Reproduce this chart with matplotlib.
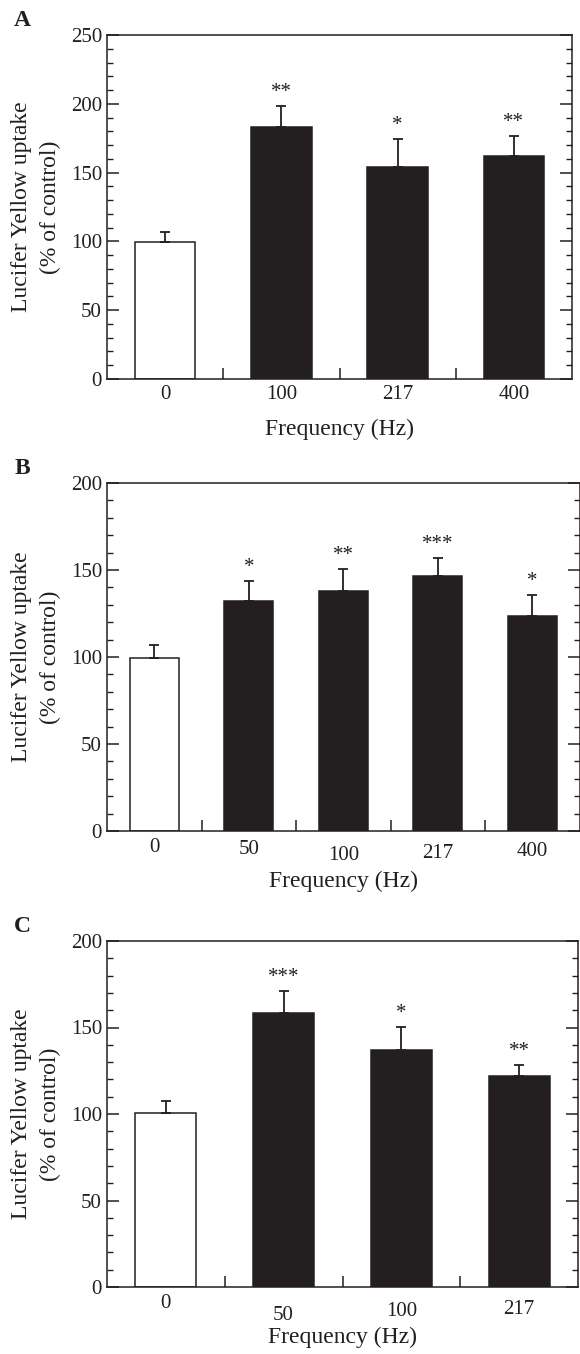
import matplotlib
matplotlib.use("Agg")
import matplotlib.pyplot as plt
from matplotlib.ticker import MultipleLocator
from matplotlib.transforms import offset_copy

plt.rcParams["font.family"] = ["Liberation Serif", "DejaVu Serif"]

INK = "#231f20"

# ---- data -------------------------------------------------------------
freq_a = ["0", "100", "217", "400"]
mean_a = [99.3, 183.3, 154.1, 162.1]
sem_a = [7.3, 15.3, 20.1, 14.7]
sig_a = ["", "**", "*", "**"]

freq_b = ["0", "50", "100", "217", "400"]
mean_b = [99.5, 132.1, 137.9, 146.5, 123.7]
sem_b = [7.5, 11.7, 12.4, 10.2, 11.7]
sig_b = ["", "*", "**", "***", "*"]

freq_c = ["0", "50", "100", "217"]
mean_c = [100.3, 158.3, 136.9, 122.1]
sem_c = [7.0, 13.0, 13.3, 6.2]
sig_c = ["", "***", "*", "**"]

panel_names = ["A", "B", "C"]
y_max = [250, 200, 200]

# per-panel vertical nudges (pixels) of the category labels
label_drop = [
    [0, 0, 0, 0],
    [0, 2, 8, 6, 4],
    [0, 12, 9, 7],
]

# ---- figure -------------------------------------------------------------
W, H = 580, 1354
fig = plt.figure(figsize=(W / 100, H / 100), dpi=100)

def frac(l, r, t, b):
    return [l / W, 1 - b / H, (r - l) / W, (b - t) / H]

boxes = [frac(107, 572, 35, 379), frac(107, 579.5, 483, 831), frac(107, 578, 941, 1287)]
panels = [
    (freq_a, mean_a, sem_a, sig_a),
    (freq_b, mean_b, sem_b, sig_b),
    (freq_c, mean_c, sem_c, sig_c),
]

for k, (box, (cats, means, sems, sigs)) in enumerate(zip(boxes, panels)):
    ax = fig.add_axes(box)
    n = len(cats)
    xs = list(range(n))
    faces = ["white"] + [INK] * (n - 1)
    ax.bar(xs, means, width=0.52, color=faces, edgecolor=INK, linewidth=1.1, zorder=2)
    ax.errorbar(xs, means, yerr=[[0] * n, sems], fmt="none", ecolor=INK,
                elinewidth=1.3, capsize=3.6, capthick=1.3, zorder=3)
    for x, m, s, lab in zip(xs, means, sems, sigs):
        if lab:
            ax.annotate(lab, (x, m + s), xytext=(0, 6.5), textcoords="offset points",
                        ha="center", va="baseline", fontsize=15, color=INK)

    ax.set_xlim(-0.5, n - 0.5)
    ax.set_ylim(0, y_max[k])

    # ticks: inward, between bars on x, major/minor on both y sides
    ax.set_xticks([i + 0.5 for i in range(n - 1)])
    ax.set_xticklabels([])
    ax.yaxis.set_major_locator(MultipleLocator(50))
    ax.yaxis.set_minor_locator(MultipleLocator(10))
    ax.tick_params(axis="x", which="both", direction="in", length=8, width=1.1,
                   color=INK, top=False, bottom=True)
    ax.tick_params(axis="y", which="major", direction="in", length=8.8, width=1.1,
                   color=INK, left=True, right=True, labelsize=15, labelcolor=INK, pad=3.6)
    ax.tick_params(axis="y", which="minor", direction="in", length=4.3, width=1.0,
                   color=INK, left=True, right=True)
    for sp in ax.spines.values():
        sp.set_color(INK)
        sp.set_linewidth(1.1)

    # category labels under the bars
    for x, lab, dy in zip(xs, cats, label_drop[k]):
        tr = offset_copy(ax.get_xaxis_transform(), fig=fig, y=-(16 + dy), units="dots")
        ax.text(x, 0, lab, transform=tr, ha="center", va="center", fontsize=15, color=INK)

    ax.set_xlabel("Frequency (Hz)", fontsize=17, color=INK, va="center")
    ax.xaxis.set_label_coords(0.5, 0, transform=offset_copy(ax.transAxes, fig=fig, y=-50, units="dots"))
    ax.set_ylabel("Lucifer Yellow uptake\n(% of control)", fontsize=17, color=INK,
                  va="center", ha="center", linespacing=1.45)
    ax.yaxis.set_label_coords(0, 0.5, transform=offset_copy(ax.transAxes, fig=fig, x=-71, units="dots"))

    # panel letter
    top_px = (1 - (box[1] + box[3])) * H
    fig.text(22 / W, 1 - (top_px - 14) / H, panel_names[k], fontsize=17,
             fontweight="bold", ha="center", va="center", color=INK)

fig.savefig("out.png", dpi=100, facecolor="white")
